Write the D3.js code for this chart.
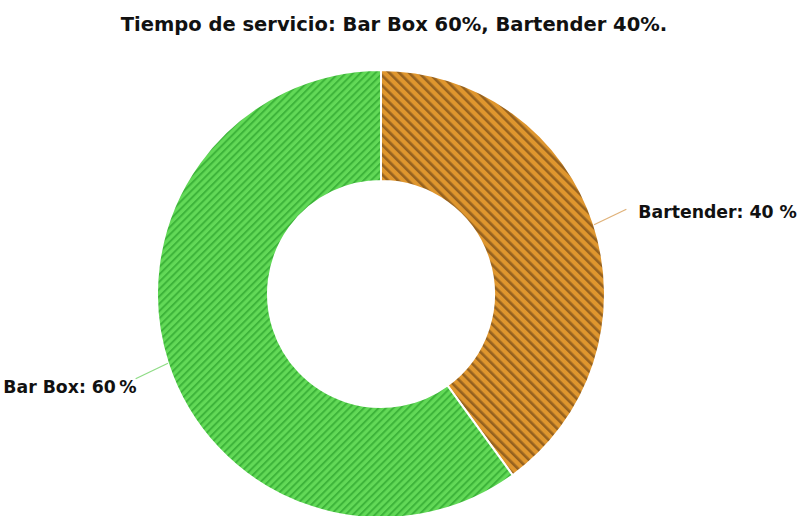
<!DOCTYPE html>
<html>
<head>
<meta charset="utf-8">
<script src="https://cdn.jsdelivr.net/npm/d3@7"></script>
<style>
  body { margin: 0; background: #fff; }
  text { font-family: "DejaVu Sans", sans-serif; font-weight: 700; fill: #111; }
</style>
</head>
<body>
<script>
const width = 803;
const height = 516;

const title = "Tiempo de servicio: Bar Box 60%, Bartender 40%.";
const categories = ["Bartender", "Bar Box"];
const values = [40, 60];
const labels = ["Bartender: 40 %", "Bar Box: 60\u2009%"];

const baseColors = ["#df962e", "#62d957"];
const stripeColors = ["#95611f", "#3db43a"];

const cx = 381, cy = 294;
const outerR = 224, innerR = 113;

const svg = d3.select("body").append("svg")
    .attr("width", width)
    .attr("height", height);

// hatch patterns, one per slice
const defs = svg.append("defs");
const patterns = [
    { id: "hatch0", size: 7, stripe: 2.6, rot: -45 },
    { id: "hatch1", size: 5.2, stripe: 2, rot: 45 }
];
patterns.forEach((p, i) => {
    const pat = defs.append("pattern")
        .attr("id", p.id)
        .attr("patternUnits", "userSpaceOnUse")
        .attr("width", p.size)
        .attr("height", p.size)
        .attr("patternTransform", "rotate(" + p.rot + ")");
    pat.append("rect")
        .attr("width", p.size).attr("height", p.size)
        .attr("fill", baseColors[i]);
    pat.append("rect")
        .attr("width", p.stripe).attr("height", p.size)
        .attr("fill", stripeColors[i]);
});

svg.append("text")
    .attr("x", 394)
    .attr("y", 31)
    .attr("text-anchor", "middle")
    .attr("font-size", 19.5)
    .text(title);

const pie = d3.pie().sort(null).value((d) => d);
const arcs = pie(values);

const arc = d3.arc().innerRadius(innerR).outerRadius(outerR);

const g = svg.append("g").attr("transform", "translate(" + cx + "," + cy + ")");

g.selectAll("path.slice")
    .data(arcs)
    .enter()
    .append("path")
    .attr("class", "slice")
    .attr("d", arc)
    .attr("fill", (d, i) => "url(#hatch" + i + ")")
    .attr("stroke", "#fff")
    .attr("stroke-width", 2);

// connectors and labels
const lineColors = ["#e0b27a", "#8fdc86"];
arcs.forEach((d, i) => {
    const mid = (d.startAngle + d.endAngle) / 2;
    const sx = Math.sin(mid), sy = -Math.cos(mid);
    const right = sx > 0;
    const p0 = [sx * outerR, sy * outerR];
    const p1 = [sx * (outerR + 34), sy * (outerR + 34) + (right ? -5 : 5)];
    g.append("path")
        .attr("d", d3.line()([p0, p1]))
        .attr("fill", "none")
        .attr("stroke", lineColors[i])
        .attr("stroke-width", 1.3);
    g.append("text")
        .attr("x", p1[0] + (right ? 12 : 1))
        .attr("y", p1[1] + (right ? 9 : 14))
        .attr("text-anchor", right ? "start" : "end")
        .attr("font-size", 17.3)
        .text(labels[i]);
});
</script>
</body>
</html>
